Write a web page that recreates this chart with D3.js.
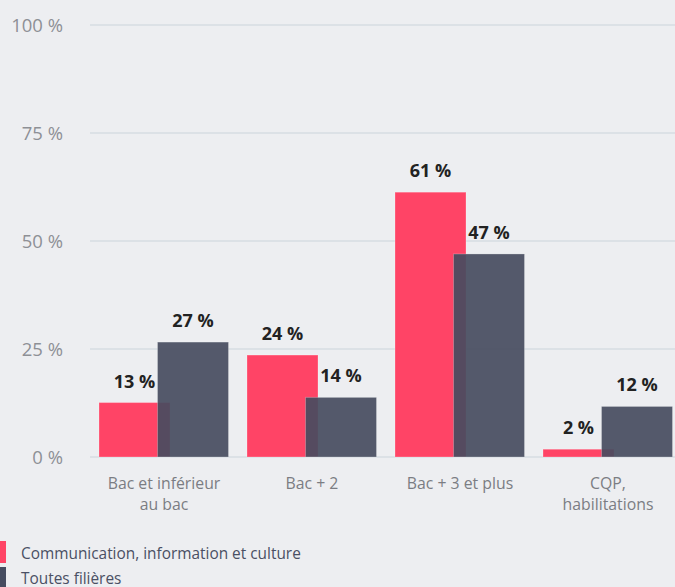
<!DOCTYPE html>
<html>
<head>
<meta charset="utf-8">
<script src="https://cdn.jsdelivr.net/npm/d3@7"></script>
<style>
  body { margin: 0; background: #edeef1; }
  svg { display: block; font-family: "Open Sans", "Noto Sans", sans-serif; }
  .tick_y { fill: #8e9096; font-size: 18.5px; }
  .cat_label { fill: #7b7d83; font-size: 15.8px; }
  .val_label { fill: #222; font-size: 18px; font-weight: bold; }
  .legend_text { fill: #4a5064; font-size: 15.4px; }
</style>
</head>
<body>
<svg id="chart" width="675" height="587"></svg>
<script>
// data
const categories = [["Bac et inférieur", "au bac"], ["Bac + 2"], ["Bac + 3 et plus"], ["CQP,", "habilitations"]];
const series_names = ["Communication, information et culture", "Toutes filières"];
const values_comm = [12.6, 23.6, 61.3, 1.8];
const values_all = [26.6, 13.8, 47.0, 11.7];
const y_ticks = [0, 25, 50, 75, 100];
const colors = ["#ff4466", "#464c60"];

var svg = d3.select("#chart");

var x = d3.scaleBand()
	.domain(d3.range(categories.length))
	.range([90, 682])
	.padding(0);

var y = d3.scaleLinear()
	.domain([0, 100])
	.range([457, 25]);

// offset of each series inside a group (bars overlap a bit)
var offset = d3.scaleLinear().domain([0, 1]).range([9, 67.5]);
const bar_width = 71;

// gridlines + y labels
y_ticks.forEach(function(t){
	svg.append("line")
		.attr("x1", 90)
		.attr("x2", 675)
		.attr("y1", y(t))
		.attr("y2", y(t))
		.attr("stroke", "#d6dce2")
		.attr("stroke-width", 1.5);

	svg.append("text")
		.attr("class", "tick_y")
		.attr("text-anchor", "end")
		.attr("x", 63)
		.attr("y", y(t) + 7)
		.text(t + " %");
});

var all_series = [values_comm, values_all];

all_series.forEach(function(vals, s){
	svg.append("g").selectAll("rect")
		.data(vals)
		.join("rect")
		.attr("x", (d, i) => x(i) + offset(s))
		.attr("y", d => y(d))
		.attr("width", bar_width)
		.attr("height", d => y(0) - y(d))
		.attr("fill", colors[s])
		.attr("fill-opacity", s == 1 ? 0.92 : 1)
		.attr("stroke", "rgba(255,255,255,0.25)")
		.attr("stroke-width", 1);
});

all_series.forEach(function(vals, s){
	svg.append("g").selectAll("text")
		.data(vals)
		.join("text")
		.attr("class", "val_label")
		.attr("text-anchor", "middle")
		.attr("x", (d, i) => x(i) + offset(s) + bar_width / 2)
		.attr("y", d => y(d) - 15)
		.text(d => Math.round(d) + " %");
});

// category labels
categories.forEach(function(lines, i){
	var cx = x(i) + x.bandwidth() / 2;
	var t = svg.append("text")
		.attr("class", "cat_label")
		.attr("text-anchor", "middle")
		.attr("x", cx)
		.attr("y", 489);
	lines.forEach(function(l, k){
		t.append("tspan")
			.attr("x", cx)
			.attr("dy", k == 0 ? 0 : 21)
			.text(l);
	});
});

// legend
series_names.forEach(function(name, s){
	svg.append("rect")
		.attr("x", 0)
		.attr("y", 541 + s * 26)
		.attr("width", 6)
		.attr("height", 22)
		.attr("fill", colors[s]);

	svg.append("text")
		.attr("class", "legend_text")
		.attr("x", 21)
		.attr("y", 559 + s * 25)
		.text(name);
});
</script>
</body>
</html>
